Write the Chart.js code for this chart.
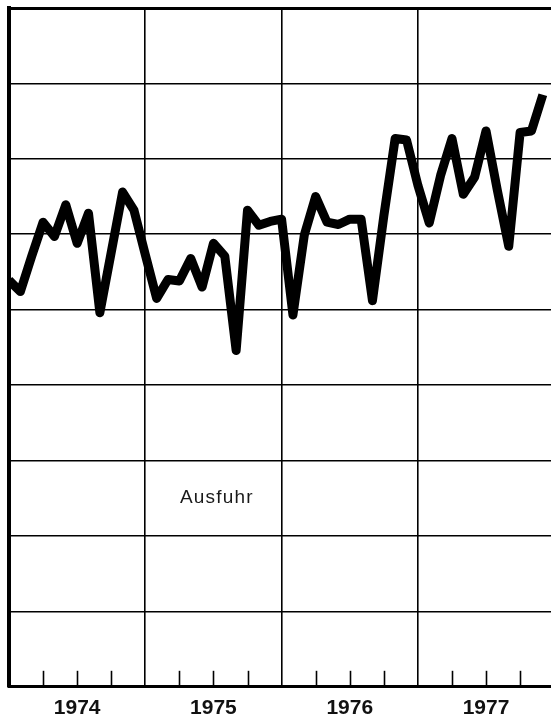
<!DOCTYPE html>
<html>
<head>
<meta charset="utf-8">
<script src="https://cdn.jsdelivr.net/npm/chart.js@4.4.1/dist/chart.umd.min.js"></script>
<style>
  html, body { margin: 0; padding: 0; background: #fff; overflow: hidden; }
  canvas { display: block; }
</style>
</head>
<body>
<canvas id="exportChart" width="551" height="720"></canvas>
<script>
// monthly export index, Jan 1974 .. Dec 1977 (grid step = 10)
const years = ['1974', '1975', '1976', '1977'];
const ausfuhr1974 = [53.9, 52.4, 57.1, 61.6, 59.7, 63.9, 58.8, 62.8, 49.6, 57.6, 65.6, 63.2];
const ausfuhr1975 = [57.3, 51.5, 54.0, 53.8, 56.8, 53.0, 58.8, 57.1, 44.6, 63.2, 61.2, 61.7];
const ausfuhr1976 = [62.0, 49.3, 59.9, 65.0, 61.6, 61.3, 62.0, 62.0, 51.2, 62.4, 72.7, 72.5];
const ausfuhr1977 = [66.5, 61.5, 67.8, 72.7, 65.3, 67.6, 73.7, 65.8, 58.4, 73.5, 73.7, 78.5];
const yTicks = [0, 10, 20, 30, 40, 50, 60, 70, 80, 90];
const seriesLabel = 'Ausfuhr';

const values = [...ausfuhr1974, ...ausfuhr1975, ...ausfuhr1976, ...ausfuhr1977];
const points = values.map((v, i) => ({ x: i, y: v }));

// where the series name sits, in data units (month, value)
const labelAnchor = { x: 18.3, y: 25.1 };

const quarterTicks = {
    id: 'quarterTicks',
    afterDatasetsDraw(chart) {
        const ctx = chart.ctx;
        const xs = chart.scales.x;
        const bottom = chart.chartArea.bottom;
        ctx.save();
        ctx.strokeStyle = '#000';
        ctx.lineWidth = 1.6;
        for (let m = 3; m < years.length * 12; m += 3) {
            if (m % 12 === 0) continue;
            const px = Math.round(xs.getPixelForValue(m)) + 0.5;
            ctx.beginPath();
            ctx.moveTo(px, bottom);
            ctx.lineTo(px, bottom - 16);
            ctx.stroke();
        }
        // series name
        ctx.fillStyle = '#1a1a1a';
        ctx.font = '19px "Liberation Sans", Arial, sans-serif';
        ctx.letterSpacing = '1.2px';
        ctx.textAlign = 'center';
        ctx.textBaseline = 'middle';
        ctx.fillText(seriesLabel, xs.getPixelForValue(labelAnchor.x), chart.scales.y.getPixelForValue(labelAnchor.y));
        ctx.restore();
    }
};

new Chart(document.getElementById('exportChart'), {
    type: 'line',
    data: {
        datasets: [{
            label: seriesLabel,
            data: points,
            borderColor: '#000',
            borderWidth: 9,
            borderJoinStyle: 'round',
            pointRadius: 0,
            tension: 0,
            fill: false,
        }],
    },
    options: {
        responsive: false,
        animation: false,
        layout: { autoPadding: false, padding: { left: 5, top: 8, right: 0, bottom: -10 } },
        plugins: {
            legend: { display: false },
            tooltip: { enabled: false },
        },
        scales: {
            x: {
                type: 'linear',
                min: 0,
                max: 47.72,
                afterBuildTicks: (scale) => {
                    scale.ticks = [];
                    for (let v = 0; v < years.length * 12; v += 6) scale.ticks.push({ value: v });
                },
                ticks: {
                    autoSkip: false,
                    maxRotation: 0,
                    padding: 9,
                    color: '#111',
                    font: { family: '"Liberation Sans", Arial, sans-serif', size: 21, weight: 'bold' },
                    callback: (v) => (v % 12 === 6 ? years[(v - 6) / 12] : ''),
                },
                grid: {
                    drawTicks: false,
                    tickLength: 0,
                    color: (c) => (c.tick && c.tick.value % 12 === 0 && c.tick.value > 0 ? '#000' : 'rgba(0,0,0,0)'),
                    lineWidth: 1.6,
                },
                border: { display: true, color: '#000', width: 3 },
            },
            y: {
                min: 0,
                max: 90,
                afterBuildTicks: (scale) => {
                    scale.ticks = yTicks.map((v) => ({ value: v }));
                },
                ticks: { display: false },
                grid: {
                    drawTicks: false,
                    tickLength: 0,
                    color: '#000',
                    lineWidth: (c) => (c.tick && c.tick.value === 90 ? 3 : 1.6),
                },
                border: { display: true, color: '#000', width: 4 },
            },
        },
    },
    plugins: [quarterTicks],
});
</script>
</body>
</html>
